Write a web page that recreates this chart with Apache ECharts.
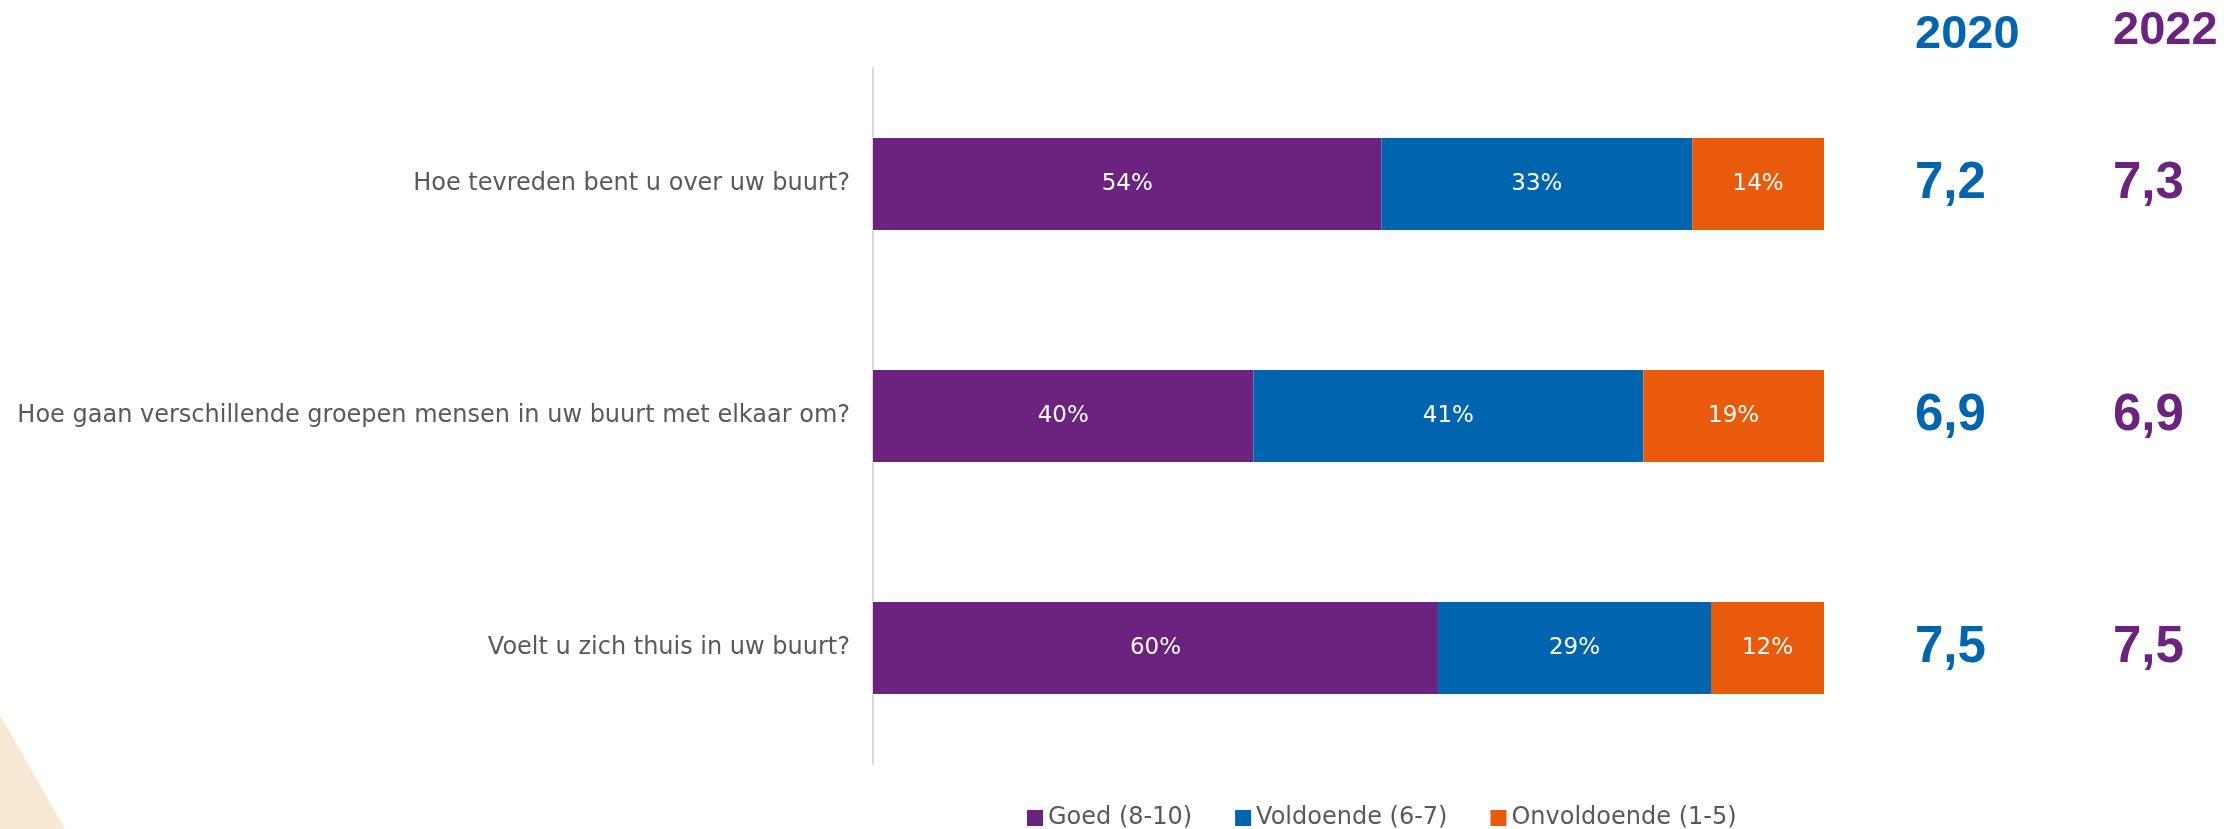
<!DOCTYPE html>
<html>
<head>
<meta charset="utf-8">
<script src="https://cdn.jsdelivr.net/npm/echarts@6/dist/echarts.min.js"></script>
<style>html,body{margin:0;padding:0;background:#fff;}#c{width:2238px;height:829px;}</style>
</head>
<body>
<div id="c"></div>
<script>
const categories = ['Hoe tevreden bent u over uw buurt?', 'Hoe gaan verschillende groepen mensen in uw buurt met elkaar om?', 'Voelt u zich thuis in uw buurt?'];
const seriesNames = ['Goed (8-10)', 'Voldoende (6-7)', 'Onvoldoende (1-5)'];
const goed = [54, 40, 60];
const voldoende = [33, 41, 29];
const onvoldoende = [14, 19, 12];
const score2020 = ['7,2', '6,9', '7,5'];
const score2022 = ['7,3', '6,9', '7,5'];
const yearLabels = ['2020', '2022'];

const colors = ['#6B237F', '#0064AF', '#EA5A0C'];
const rowSums = categories.map((_, i) => goed[i] + voldoende[i] + onvoldoende[i]);
const norm = arr => arr.map((v, i) => ({ value: v / rowSums[i] * 100, raw: v }));

const chart = echarts.init(document.getElementById('c'));
const labelFont = '"DejaVu Sans", sans-serif';
const numFont = '"Liberation Sans"';

function barSeries(name, arr, color) {
  return {
    name: name, type: 'bar', stack: 'total', barWidth: 92,
    itemStyle: { color: color },
    label: { show: true, position: 'inside', color: '#fff', fontSize: 23, fontFamily: labelFont,
      formatter: p => p.data.raw + '%' },
    data: norm(arr)
  };
}

chart.setOption({
  animation: false,
  grid: { left: 873, right: 414, top: 68, bottom: 65 },
  xAxis: { type: 'value', min: 0, max: 100, show: false },
  yAxis: [
    { type: 'category', inverse: true, data: categories,
      axisLine: { show: true, lineStyle: { color: '#D9D9D9', width: 2 } },
      axisTick: { show: false },
      axisLabel: { color: '#595959', fontSize: 24, fontFamily: labelFont, margin: 23 } },
    { type: 'category', inverse: true, data: categories, position: 'right', offset: 91,
      axisLine: { show: false }, axisTick: { show: false },
      name: yearLabels[0], nameLocation: 'start', nameGap: 9,
      nameTextStyle: { color: colors[1], fontSize: 47, fontWeight: 700, fontFamily: numFont, align: 'left', verticalAlign: 'bottom' },
      axisLabel: { margin: 0, color: colors[1], fontSize: 51, fontWeight: 700, fontFamily: numFont,
        formatter: (v, i) => score2020[i] } },
    { type: 'category', inverse: true, data: categories, position: 'right', offset: 289,
      axisLine: { show: false }, axisTick: { show: false },
      name: yearLabels[1], nameLocation: 'start', nameGap: 13,
      nameTextStyle: { color: colors[0], fontSize: 47, fontWeight: 700, fontFamily: numFont, align: 'left', verticalAlign: 'bottom' },
      axisLabel: { margin: 0, color: colors[0], fontSize: 51, fontWeight: 700, fontFamily: numFont,
        formatter: (v, i) => score2022[i] } }
  ],
  legend: {
    left: 1022, top: 801, itemWidth: 16, itemHeight: 16, itemGap: 43, icon: 'rect',
    textStyle: { color: '#595959', fontSize: 24, fontFamily: labelFont },
    data: seriesNames
  },
  graphic: [{ type: 'polygon', z: -10, shape: { points: [[0, 715], [65, 829], [0, 829]] }, style: { fill: '#F8E9D4' } }],
  series: [
    barSeries(seriesNames[0], goed, colors[0]),
    barSeries(seriesNames[1], voldoende, colors[1]),
    barSeries(seriesNames[2], onvoldoende, colors[2])
  ]
});
</script>
</body>
</html>
